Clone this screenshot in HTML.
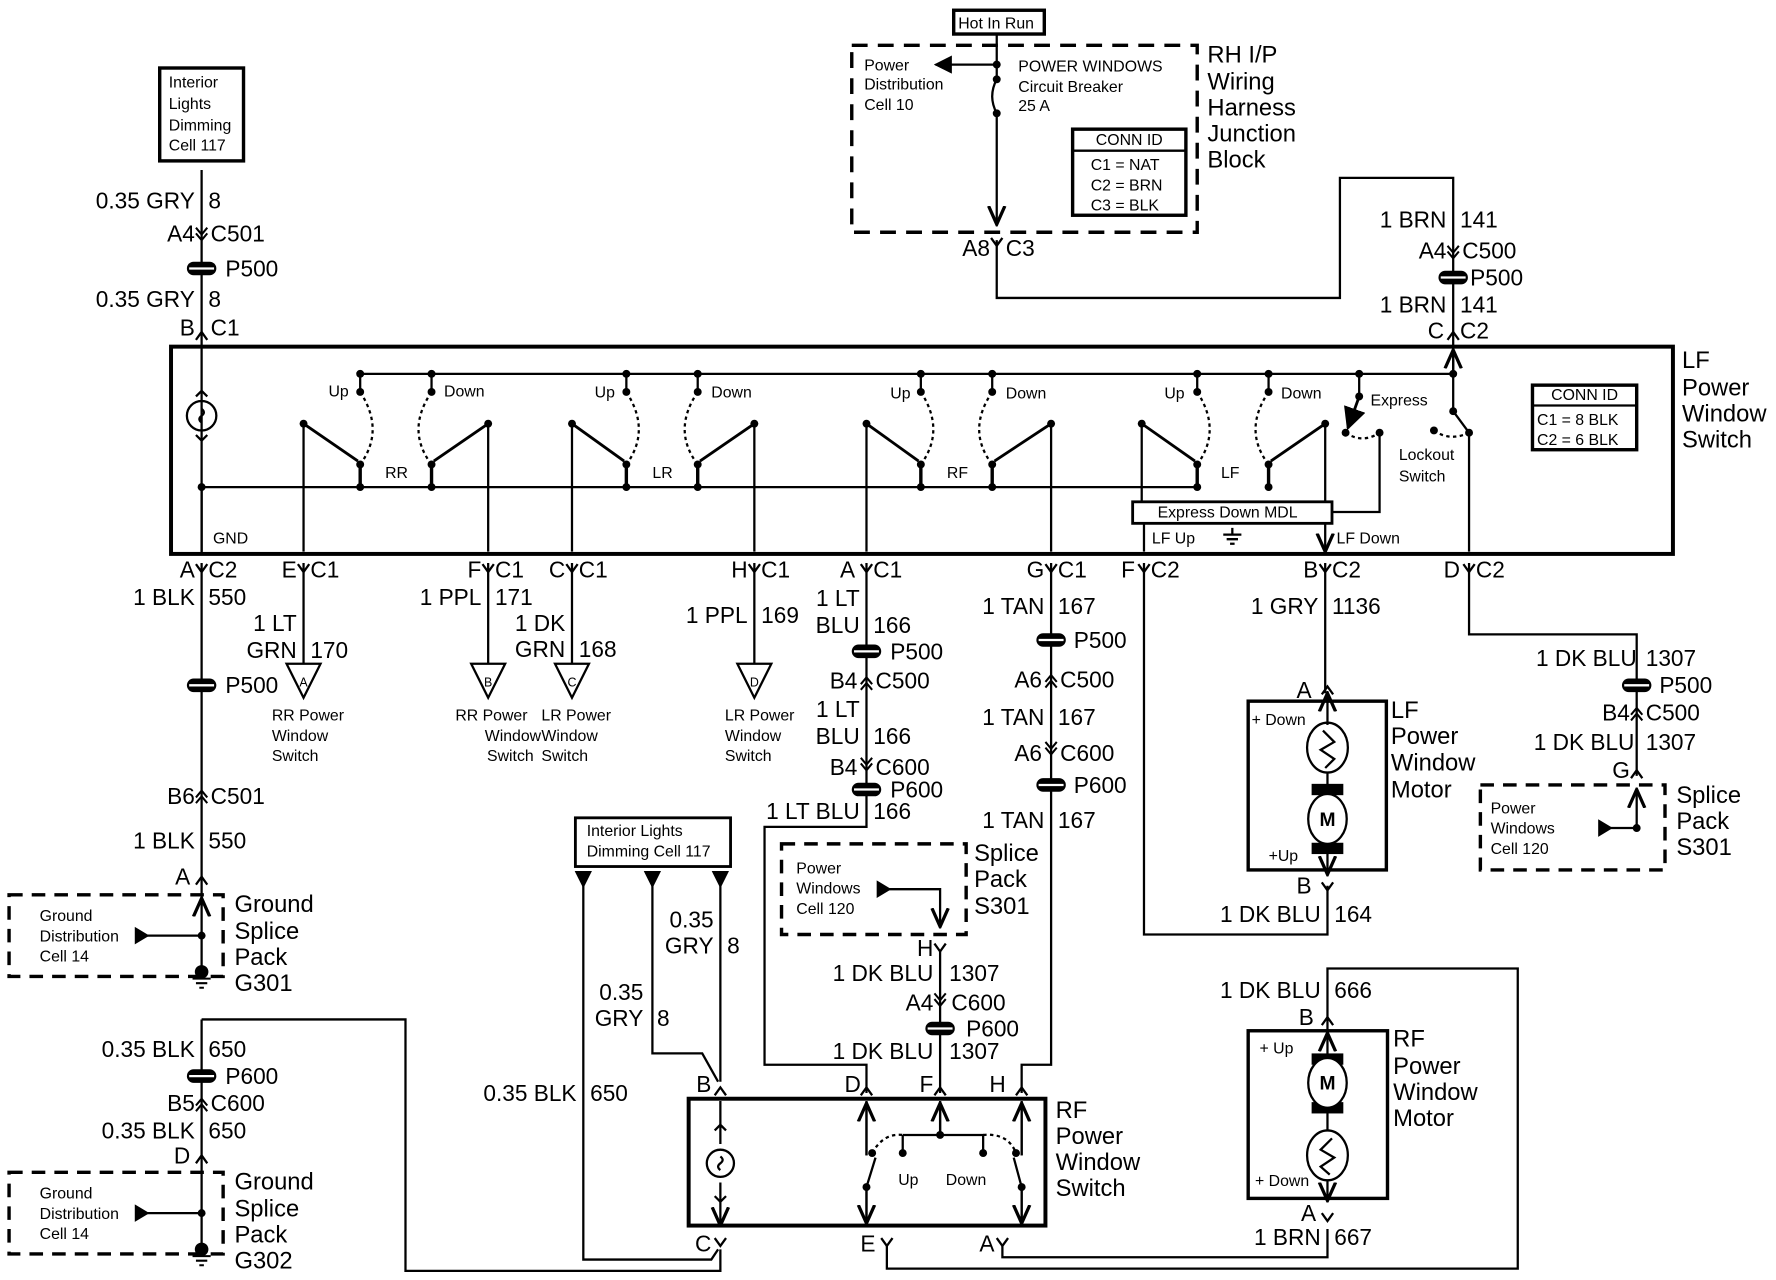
<!DOCTYPE html>
<html><head><meta charset="utf-8"><style>
html,body{margin:0;padding:0;background:#fff}
svg{display:block}
text{font-family:"Liberation Sans Narrow","Liberation Sans",Arial,sans-serif;fill:#000}
.l{font-size:20px}
.s{font-size:14px}
.m{font-size:21px}
.r{text-anchor:end}
.c{text-anchor:middle}
</style></head><body>
<svg width="1776" height="1280" viewBox="0 0 1568 1130" xmlns="http://www.w3.org/2000/svg">
<defs>
<marker id="ah" viewBox="0 0 10 10" refX="9" refY="5" markerWidth="9" markerHeight="9" orient="auto-start-reverse"><path d="M0,1 L9,5 L0,9" fill="none" stroke="#000" stroke-width="1.6"/></marker>
<marker id="af" viewBox="0 0 10 10" refX="9" refY="5" markerWidth="8" markerHeight="8" orient="auto"><path d="M0,0 L10,5 L0,10z" fill="#000"/></marker>
<g id="sp"><rect x="-13" y="-6" width="26" height="12" rx="6" fill="#000"/><line x1="-11" y1="0" x2="11" y2="0" stroke="#fff" stroke-width="2"/></g>
<path id="cv" d="M-5,-7 L0,0 L5,-7" fill="none" stroke="#000" stroke-width="2"/>
<path id="cu" d="M-5,7 L0,0 L5,7" fill="none" stroke="#000" stroke-width="2"/>
<g id="dv"><path d="M-5,-9 L0,-3 L5,-9 M-5,-4 L0,2 L5,-4" fill="none" stroke="#000" stroke-width="1.8"/></g>
<g id="du"><path d="M-5,9 L0,3 L5,9 M-5,4 L0,-2 L5,4" fill="none" stroke="#000" stroke-width="1.8"/></g>
<circle id="d" r="3.5" fill="#000"/>
<g id="gnd"><circle r="6" fill="#000"/><path d="M-8,6 H8 M-5,10 H5 M-2,14 H2" stroke="#000" stroke-width="1.8"/></g>
</defs>
<g stroke="#000" stroke-width="2" fill="none">
<rect x="141" y="60" width="74" height="82" stroke-width="3"/>
<line x1="178" y1="150" x2="178" y2="306"/>
<rect x="842" y="9" width="80" height="21" stroke-width="3"/>
<rect x="752" y="40" width="305" height="165" stroke-dasharray="14,9" stroke-width="3"/>
<line x1="880" y1="30" x2="880" y2="70"/>
<path d="M880,70 Q872,85 880,100"/>
<line x1="880" y1="100" x2="880" y2="198" marker-end="url(#ah)"/>
<line x1="880" y1="57" x2="826" y2="57" marker-end="url(#af)"/>
<rect x="947" y="114" width="100" height="76" stroke-width="3"/>
<line x1="947" y1="133" x2="1047" y2="133"/>
<path d="M880,212 V263 H1183 V157 H1283 V306"/>
<rect x="151" y="306" width="1326" height="183" stroke-width="3.5"/>
<line x1="178" y1="306" x2="178" y2="489"/>
<line x1="318" y1="330" x2="1283" y2="330"/>
<line x1="178" y1="430" x2="1057" y2="430"/>
<path d="M318,330 V346 M381,330 V346 M553,330 V346 M616,330 V346 M813,330 V346 M876,330 V346 M1057,330 V346 M1120,330 V346 M1200,330 V350"/>
<path d="M318,410 V430 M381,410 V430 M553,410 V430 M616,410 V430 M813,410 V430 M876,410 V430 M1057,410 V430 M1120,410 V430" stroke-width="3"/>
<g stroke-dasharray="3,3"><path d="M318,346 Q340,380 318,410 M381,346 Q358,380 381,410 M553,346 Q575,380 553,410 M616,346 Q593,380 616,410 M813,346 Q835,380 813,410 M876,346 Q853,380 876,410 M1057,346 Q1079,380 1057,410 M1120,346 Q1097,380 1120,410 M1188,382 Q1203,392 1218,382 M1266,380 Q1280,390 1297,382"/></g>
<g marker-end="url(#af)" stroke-width="2.5"><path d="M268,374 L316,407 M431,374 L383,407 M505,374 L551,407 M666,374 L618,407 M765,374 L811,407 M928,374 L878,407 M1008,374 L1055,407 M1170,374 L1122,407 M1200,350 L1190,378"/></g>
<g marker-end="url(#ah)"><path d="M268,374 V487 M431,374 V487 M505,374 V487 M666,374 V487 M765,374 V487 M928,374 V487 M178,430 V487 M1297,382 V487 M1283,330 V309"/></g>
<path d="M1008,374 V443 M1170,374 V443 M1283,306 V363 L1297,382 M1218,382 V452 H1176"/>
<rect x="1000" y="443" width="176" height="19" stroke-width="2.5"/>
<g marker-end="url(#ah)"><path d="M1010,462 V487 M1170,462 V487"/></g>
<path d="M1088,466 V472 M1080,472 H1096 M1083,476 H1093 M1086,480 H1090"/>
<circle cx="178" cy="367" r="13"/>
<path d="M178,361 q4,3 0,6 q-4,3 0,6" />
<path d="M173,350 L178,345 L183,350 M173,384 L178,389 L183,384"/>
<rect x="1353" y="340" width="92" height="57" stroke-width="3"/>
<line x1="1353" y1="358" x2="1445" y2="358"/>
<line x1="178" y1="497" x2="178" y2="860"/>
<line x1="268" y1="497" x2="268" y2="586"/>
<line x1="431" y1="497" x2="431" y2="586"/>
<line x1="505" y1="497" x2="505" y2="586"/>
<line x1="666" y1="497" x2="666" y2="586"/>
<path d="M268,616 L253,586 H283 Z M431,616 L416,586 H446 Z M505,616 L490,586 H520 Z M666,616 L651,586 H681 Z"/>
<path d="M765,497 V730 H675 V940 H765 V965"/>
<path d="M928,497 V940 H902 V965"/>
<path d="M1010,497 V825 H1172 V782"/>
<path d="M1170,497 V612"/>
<path d="M1297,497 V560 H1445 V685"/>
<rect x="1102" y="619" width="122" height="149" stroke-width="3"/>
<line x1="1172" y1="612" x2="1172" y2="640" marker-start="url(#ah)"/>
<ellipse cx="1172" cy="660" rx="18" ry="22"/>
<path d="M1168,645 L1178,655 L1166,662 L1178,670 L1170,678"/>
<line x1="1172" y1="682" x2="1172" y2="700"/>
<rect x="1159" y="693" width="26" height="8" fill="#000"/><rect x="1159" y="745" width="26" height="8" fill="#000"/>
<ellipse cx="1172" cy="723" rx="17" ry="22" fill="#fff"/>
<line x1="1172" y1="753" x2="1172" y2="772" marker-end="url(#ah)"/>
<rect x="1307" y="693" width="163" height="75" stroke-dasharray="12,8" stroke-width="3"/>
<path d="M1420,731 H1445 V697" marker-end="url(#ah)"/>
<path d="M1412,725 L1422,731 L1412,737Z" fill="#000"/>
<rect x="8" y="790" width="189" height="72" stroke-dasharray="12,8" stroke-width="3"/>
<path d="M128,826 H178"/><path d="M120,820 L130,826 L120,832Z" fill="#000"/>
<line x1="178" y1="800" x2="178" y2="793" marker-end="url(#ah)"/>
<path d="M178,900 H358 V1122 H636 V1103"/>
<line x1="178" y1="900" x2="178" y2="1105"/>
<rect x="8" y="1035" width="189" height="72" stroke-dasharray="12,8" stroke-width="3"/>
<path d="M128,1071 H178"/><path d="M120,1065 L130,1071 L120,1077Z" fill="#000"/>
<rect x="508" y="722" width="137" height="43" stroke-width="2.5"/>
<path d="M515,772 V1112 H628 L634,1103"/>
<path d="M576,772 V930 H620 L634,955"/>
<path d="M636,772 V955"/>
<path d="M509,770 L515,782 L521,770Z M570,770 L576,782 L582,770Z M630,770 L636,782 L642,770Z" fill="#000"/>
<rect x="690" y="745" width="163" height="80" stroke-dasharray="12,8" stroke-width="3"/>
<path d="M785,785 H830 V818" marker-end="url(#ah)"/>
<path d="M775,779 L785,785 L775,791Z" fill="#000"/>
<line x1="830" y1="840" x2="830" y2="965"/>
<rect x="608" y="970" width="315" height="112" stroke-width="3.5"/>
<path d="M636,1082 V1044 M636,1010 V972" marker-start="url(#ah)"/>
<circle cx="636" cy="1027" r="12"/><path d="M636,1021 q4,3 0,6 q-4,3 0,6"/>
<path d="M631,998 L636,993 L641,998 M631,1056 L636,1061 L641,1056"/>
<path d="M830,972 V1002 M797,1002 H868 V1018 M797,1002 V1018" />
<line x1="830" y1="1002" x2="830" y2="974" marker-end="url(#ah)"/>
<path d="M765,1082 V1048 L773,1022 M765,1020 V972 M902,1082 V1048 L895,1022 M902,1020 V972"/>
<line x1="765" y1="1020" x2="765" y2="974" marker-end="url(#ah)"/><line x1="902" y1="1020" x2="902" y2="974" marker-end="url(#ah)"/>
<line x1="765" y1="1050" x2="765" y2="1080" marker-end="url(#ah)"/><line x1="902" y1="1050" x2="902" y2="1080" marker-end="url(#ah)"/>
<path d="M770,1018 Q780,1000 797,1002 M868,1002 Q890,1000 897,1018" stroke-dasharray="3,3"/>
<path d="M783,1100 V1120 H1340 V855 H1172 V912"/>
<path d="M885,1100 V1110 H1172 V1085"/>
<rect x="1102" y="910" width="123" height="148" stroke-width="3"/>
<line x1="1172" y1="940" x2="1172" y2="912" marker-end="url(#ah)"/>
<rect x="1159" y="931" width="26" height="8" fill="#000"/><rect x="1159" y="974" width="26" height="8" fill="#000"/>
<ellipse cx="1172" cy="956" rx="17" ry="22" fill="#fff"/>
<line x1="1172" y1="982" x2="1172" y2="998"/>
<ellipse cx="1172" cy="1020" rx="18" ry="22"/>
<path d="M1176,1005 L1166,1015 L1178,1022 L1166,1030 L1174,1037"/>
<line x1="1172" y1="1042" x2="1172" y2="1060" marker-end="url(#ah)"/>
</g>
<g>
<use href="#d" x="318" y="330"/><use href="#d" x="381" y="330"/><use href="#d" x="553" y="330"/><use href="#d" x="616" y="330"/><use href="#d" x="813" y="330"/><use href="#d" x="876" y="330"/><use href="#d" x="1057" y="330"/><use href="#d" x="1120" y="330"/><use href="#d" x="1200" y="330"/><use href="#d" x="1283" y="330"/>
<use href="#d" x="318" y="346"/><use href="#d" x="381" y="346"/><use href="#d" x="553" y="346"/><use href="#d" x="616" y="346"/><use href="#d" x="813" y="346"/><use href="#d" x="876" y="346"/><use href="#d" x="1057" y="346"/><use href="#d" x="1120" y="346"/><use href="#d" x="1200" y="350"/><use href="#d" x="1283" y="363"/>
<use href="#d" x="268" y="374"/><use href="#d" x="431" y="374"/><use href="#d" x="505" y="374"/><use href="#d" x="666" y="374"/><use href="#d" x="765" y="374"/><use href="#d" x="928" y="374"/><use href="#d" x="1008" y="374"/><use href="#d" x="1170" y="374"/>
<use href="#d" x="318" y="410"/><use href="#d" x="381" y="410"/><use href="#d" x="553" y="410"/><use href="#d" x="616" y="410"/><use href="#d" x="813" y="410"/><use href="#d" x="876" y="410"/><use href="#d" x="1057" y="410"/><use href="#d" x="1120" y="410"/>
<use href="#d" x="318" y="430"/><use href="#d" x="381" y="430"/><use href="#d" x="553" y="430"/><use href="#d" x="616" y="430"/><use href="#d" x="813" y="430"/><use href="#d" x="876" y="430"/><use href="#d" x="1057" y="430"/><use href="#d" x="1120" y="430"/><use href="#d" x="178" y="430"/>
<use href="#d" x="1188" y="382"/><use href="#d" x="1218" y="382"/><use href="#d" x="1266" y="380"/><use href="#d" x="1297" y="382"/>
<use href="#d" x="880" y="70"/><use href="#d" x="880" y="100"/><use href="#d" x="880" y="57"/>
<use href="#d" x="178" y="826"/><use href="#d" x="178" y="1071"/><use href="#d" x="1445" y="731"/>
<use href="#d" x="830" y="1002"/><use href="#d" x="797" y="1018"/><use href="#d" x="868" y="1018"/><use href="#d" x="770" y="1018"/><use href="#d" x="897" y="1018"/><use href="#d" x="765" y="1048"/><use href="#d" x="902" y="1048"/>
<use href="#gnd" x="178" y="858"/><use href="#gnd" x="178" y="1103"/>
<use href="#sp" x="178" y="237"/><use href="#sp" x="1283" y="245"/><use href="#sp" x="178" y="605"/>
<use href="#sp" x="765" y="575"/><use href="#sp" x="765" y="697"/><use href="#sp" x="928" y="565"/><use href="#sp" x="928" y="693"/>
<use href="#sp" x="830" y="908"/><use href="#sp" x="178" y="950"/><use href="#sp" x="1445" y="605"/>
<use href="#dv" x="178" y="210"/><use href="#dv" x="1283" y="226"/><use href="#du" x="178" y="700"/>
<use href="#du" x="765" y="600"/><use href="#dv" x="765" y="678"/><use href="#du" x="928" y="598"/><use href="#dv" x="928" y="664"/>
<use href="#dv" x="830" y="886"/><use href="#du" x="178" y="972"/><use href="#du" x="1445" y="627"/>
<use href="#cu" x="178" y="293"/><use href="#cu" x="1283" y="293"/><use href="#cv" x="880" y="217"/>
<use href="#cv" x="178" y="505"/><use href="#cv" x="268" y="505"/><use href="#cv" x="431" y="505"/><use href="#cv" x="505" y="505"/><use href="#cv" x="666" y="505"/><use href="#cv" x="765" y="505"/><use href="#cv" x="928" y="505"/><use href="#cv" x="1010" y="505"/><use href="#cv" x="1170" y="505"/><use href="#cv" x="1297" y="505"/>
<use href="#cu" x="1172" y="606"/><use href="#cv" x="1172" y="786"/><use href="#cu" x="1445" y="680"/>
<use href="#cu" x="178" y="774"/><use href="#cu" x="178" y="1020"/><use href="#cv" x="830" y="840"/>
<use href="#cu" x="636" y="960"/><use href="#cu" x="765" y="960"/><use href="#cu" x="830" y="960"/><use href="#cu" x="902" y="960"/>
<use href="#cv" x="636" y="1100"/><use href="#cv" x="783" y="1100"/><use href="#cv" x="885" y="1100"/>
<use href="#cu" x="1172" y="898"/><use href="#cv" x="1172" y="1078"/>
</g>
<g class="s">
<text x="149" y="77">Interior</text><text x="149" y="96">Lights</text><text x="149" y="115">Dimming</text><text x="149" y="133">Cell 117</text>
<text x="846" y="25">Hot In Run</text>
<text x="763" y="62">Power</text><text x="763" y="79">Distribution</text><text x="763" y="97">Cell 10</text>
<text x="899" y="63">POWER WINDOWS</text><text x="899" y="81">Circuit Breaker</text><text x="899" y="98">25 A</text>
<text x="997" y="128" class="c">CONN ID</text><text x="963" y="150">C1 = NAT</text><text x="963" y="168">C2 = BRN</text><text x="963" y="186">C3 = BLK</text>
<text x="1399" y="353" class="c">CONN ID</text><text x="1357" y="375">C1 = 8 BLK</text><text x="1357" y="393">C2 = 6 BLK</text>
<text x="290" y="350">Up</text><text x="392" y="350">Down</text><text x="525" y="351">Up</text><text x="628" y="351">Down</text>
<text x="786" y="352">Up</text><text x="888" y="352">Down</text><text x="1028" y="352">Up</text><text x="1131" y="352">Down</text>
<text x="1210" y="358">Express</text><text x="1235" y="406">Lockout</text><text x="1235" y="425">Switch</text>
<text x="340" y="422">RR</text><text x="576" y="422">LR</text><text x="836" y="422">RF</text><text x="1078" y="422">LF</text>
<text x="188" y="480">GND</text>
<text x="1022" y="457">Express Down MDL</text>
<text x="1017" y="480">LF Up</text><text x="1180" y="480">LF Down</text>
<text x="240" y="636">RR Power</text><text x="240" y="654">Window</text><text x="240" y="672">Switch</text>
<text x="402" y="636">RR Power</text><text x="428" y="654">Window</text><text x="430" y="672">Switch</text>
<text x="478" y="636">LR Power</text><text x="478" y="654">Window</text><text x="478" y="672">Switch</text>
<text x="640" y="636">LR Power</text><text x="640" y="654">Window</text><text x="640" y="672">Switch</text>
<text x="268" y="606" class="c" style="font-size:11px">A</text><text x="431" y="606" class="c" style="font-size:11px">B</text><text x="505" y="606" class="c" style="font-size:11px">C</text><text x="666" y="606" class="c" style="font-size:11px">D</text>
<text x="35" y="813">Ground</text><text x="35" y="831">Distribution</text><text x="35" y="849">Cell 14</text>
<text x="35" y="1058">Ground</text><text x="35" y="1076">Distribution</text><text x="35" y="1094">Cell 14</text>
<text x="518" y="738">Interior Lights</text><text x="518" y="756">Dimming Cell 117</text>
<text x="703" y="771">Power</text><text x="703" y="789">Windows</text><text x="703" y="807">Cell 120</text>
<text x="1316" y="718">Power</text><text x="1316" y="736">Windows</text><text x="1316" y="754">Cell 120</text>
<text x="1105" y="640">+ Down</text><text x="1120" y="760">+Up</text>
<text x="1112" y="930">+ Up</text><text x="1108" y="1047">+ Down</text>
<text x="793" y="1046">Up</text><text x="835" y="1046">Down</text>
<text x="1172" y="729" class="c" style="font-size:17px;font-weight:bold">M</text>
<text x="1172" y="962" class="c" style="font-size:17px;font-weight:bold">M</text>
</g>
<g class="m">
<text x="1066" y="55">RH I/P</text><text x="1066" y="79">Wiring</text><text x="1066" y="102">Harness</text><text x="1066" y="125">Junction</text><text x="1066" y="148">Block</text>
<text x="1485" y="325">LF</text><text x="1485" y="349">Power</text><text x="1485" y="372">Window</text><text x="1485" y="395">Switch</text>
<text x="207" y="805">Ground</text><text x="207" y="829">Splice</text><text x="207" y="852">Pack</text><text x="207" y="875">G301</text>
<text x="207" y="1050">Ground</text><text x="207" y="1074">Splice</text><text x="207" y="1097">Pack</text><text x="207" y="1120">G302</text>
<text x="860" y="760">Splice</text><text x="860" y="783">Pack</text><text x="860" y="807">S301</text>
<text x="1480" y="709">Splice</text><text x="1480" y="732">Pack</text><text x="1480" y="755">S301</text>
<text x="1228" y="634">LF</text><text x="1228" y="657">Power</text><text x="1228" y="680">Window</text><text x="1228" y="704">Motor</text>
<text x="1230" y="924">RF</text><text x="1230" y="948">Power</text><text x="1230" y="971">Window</text><text x="1230" y="994">Motor</text>
<text x="932" y="987">RF</text><text x="932" y="1010">Power</text><text x="932" y="1033">Window</text><text x="932" y="1056">Switch</text>
</g>
<g class="l">
<text x="172" y="184" class="r">0.35 GRY</text><text x="184" y="184">8</text>
<text x="172" y="213" class="r">A4</text><text x="186" y="213">C501</text>
<text x="199" y="244">P500</text>
<text x="172" y="271" class="r">0.35 GRY</text><text x="184" y="271">8</text>
<text x="172" y="296" class="r">B</text><text x="186" y="296">C1</text>
<text x="874" y="226" class="r">A8</text><text x="888" y="226">C3</text>
<text x="1277" y="201" class="r">1 BRN</text><text x="1289" y="201">141</text>
<text x="1277" y="228" class="r">A4</text><text x="1291" y="228">C500</text>
<text x="1298" y="252">P500</text>
<text x="1277" y="276" class="r">1 BRN</text><text x="1289" y="276">141</text>
<text x="1275" y="299" class="r">C</text><text x="1289" y="299">C2</text>
<text x="172" y="510" class="r">A</text><text x="184" y="510">C2</text>
<text x="262" y="510" class="r">E</text><text x="274" y="510">C1</text>
<text x="425" y="510" class="r">F</text><text x="437" y="510">C1</text>
<text x="499" y="510" class="r">C</text><text x="511" y="510">C1</text>
<text x="660" y="510" class="r">H</text><text x="672" y="510">C1</text>
<text x="755" y="510" class="r">A</text><text x="771" y="510">C1</text>
<text x="922" y="510" class="r">G</text><text x="934" y="510">C1</text>
<text x="1002" y="510" class="r">F</text><text x="1016" y="510">C2</text>
<text x="1164" y="510" class="r">B</text><text x="1176" y="510">C2</text>
<text x="1289" y="510" class="r">D</text><text x="1303" y="510">C2</text>
<text x="172" y="534" class="r">1 BLK</text><text x="184" y="534">550</text>
<text x="262" y="557" class="r">1 LT</text><text x="262" y="581" class="r">GRN</text><text x="274" y="581">170</text>
<text x="199" y="612">P500</text>
<text x="425" y="534" class="r">1 PPL</text><text x="437" y="534">171</text>
<text x="499" y="557" class="r">1 DK</text><text x="499" y="580" class="r">GRN</text><text x="511" y="580">168</text>
<text x="660" y="550" class="r">1 PPL</text><text x="672" y="550">169</text>
<text x="759" y="535" class="r">1 LT</text><text x="759" y="559" class="r">BLU</text><text x="771" y="559">166</text>
<text x="786" y="582">P500</text>
<text x="757" y="608" class="r">B4</text><text x="773" y="608">C500</text>
<text x="759" y="633" class="r">1 LT</text><text x="759" y="657" class="r">BLU</text><text x="771" y="657">166</text>
<text x="757" y="684" class="r">B4</text><text x="773" y="684">C600</text>
<text x="786" y="704">P600</text>
<text x="759" y="723" class="r">1 LT BLU</text><text x="771" y="723">166</text>
<text x="922" y="542" class="r">1 TAN</text><text x="934" y="542">167</text>
<text x="948" y="572">P500</text>
<text x="920" y="607" class="r">A6</text><text x="936" y="607">C500</text>
<text x="922" y="640" class="r">1 TAN</text><text x="934" y="640">167</text>
<text x="920" y="672" class="r">A6</text><text x="936" y="672">C600</text>
<text x="948" y="700">P600</text>
<text x="922" y="731" class="r">1 TAN</text><text x="934" y="731">167</text>
<text x="1164" y="542" class="r">1 GRY</text><text x="1176" y="542">1136</text>
<text x="1158" y="616" class="r">A</text>
<text x="1158" y="789" class="r">B</text>
<text x="1166" y="814" class="r">1 DK BLU</text><text x="1178" y="814">164</text>
<text x="1445" y="588" class="r">1 DK BLU</text><text x="1453" y="588">1307</text>
<text x="1465" y="612">P500</text>
<text x="1439" y="636" class="r">B4</text><text x="1453" y="636">C500</text>
<text x="1443" y="662" class="r">1 DK BLU</text><text x="1453" y="662">1307</text>
<text x="1439" y="687" class="r">G</text>
<text x="172" y="710" class="r">B6</text><text x="186" y="710">C501</text>
<text x="172" y="749" class="r">1 BLK</text><text x="184" y="749">550</text>
<text x="168" y="781" class="r">A</text>
<text x="172" y="933" class="r">0.35 BLK</text><text x="184" y="933">650</text>
<text x="199" y="957">P600</text>
<text x="172" y="981" class="r">B5</text><text x="186" y="981">C600</text>
<text x="172" y="1005" class="r">0.35 BLK</text><text x="184" y="1005">650</text>
<text x="168" y="1027" class="r">D</text>
<text x="630" y="819" class="r">0.35</text><text x="630" y="842" class="r">GRY</text><text x="642" y="842">8</text>
<text x="568" y="883" class="r">0.35</text><text x="568" y="906" class="r">GRY</text><text x="580" y="906">8</text>
<text x="509" y="972" class="r">0.35 BLK</text><text x="521" y="972">650</text>
<text x="824" y="844" class="r">H</text>
<text x="824" y="866" class="r">1 DK BLU</text><text x="838" y="866">1307</text>
<text x="824" y="892" class="r">A4</text><text x="840" y="892">C600</text>
<text x="853" y="915">P600</text>
<text x="824" y="935" class="r">1 DK BLU</text><text x="838" y="935">1307</text>
<text x="628" y="964" class="r">B</text><text x="760" y="964" class="r">D</text><text x="824" y="964" class="r">F</text><text x="888" y="964" class="r">H</text>
<text x="628" y="1105" class="r">C</text><text x="773" y="1105" class="r">E</text><text x="878" y="1105" class="r">A</text>
<text x="1166" y="881" class="r">1 DK BLU</text><text x="1178" y="881">666</text>
<text x="1160" y="905" class="r">B</text>
<text x="1162" y="1078" class="r">A</text>
<text x="1166" y="1099" class="r">1 BRN</text><text x="1178" y="1099">667</text>
</g>
</svg>
</body></html>
